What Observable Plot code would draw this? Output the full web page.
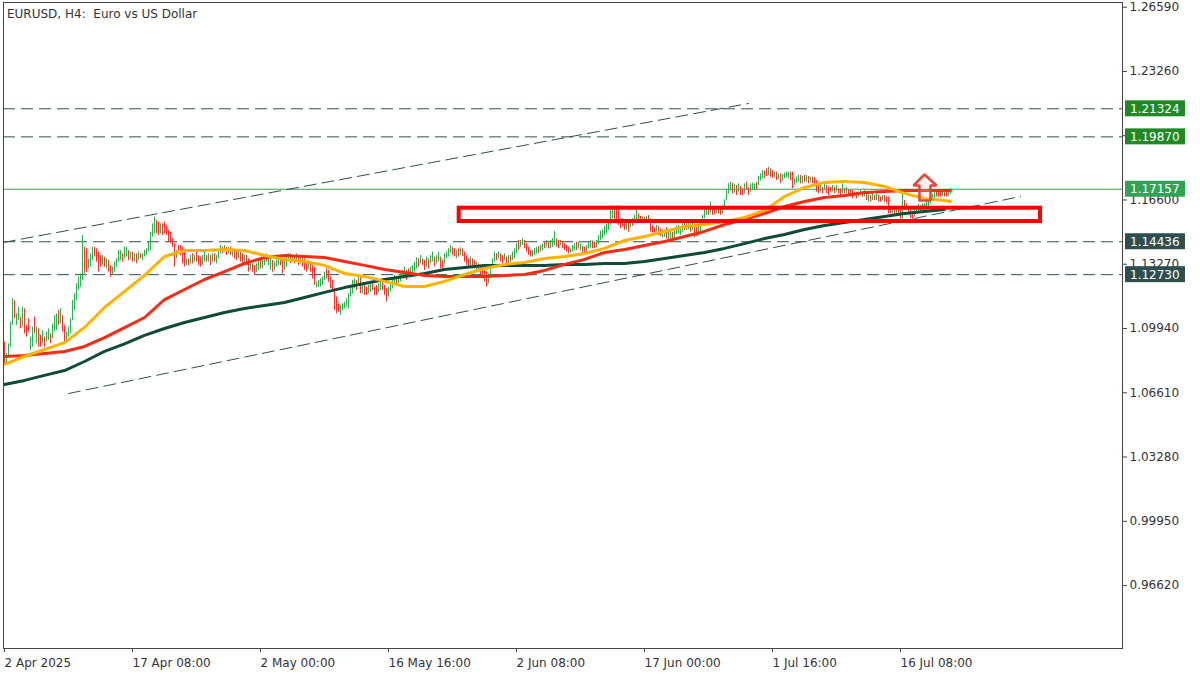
<!DOCTYPE html>
<html><head><meta charset="utf-8">
<script src="https://cdn.jsdelivr.net/npm/d3@7"></script>
<script src="https://cdn.jsdelivr.net/npm/@observablehq/plot@0.6"></script>
<style>
html,body{margin:0;padding:0;background:#fff;}
#chart{width:1200px;height:675px;overflow:hidden;}
</style></head><body><div id="chart"></div>
<script>
// ---- EURUSD H4 candles (bar index 0 = 2 Apr 2025) ----
const high = [
1.0923,1.0863,1.0915,1.1027,1.1148,1.1139,1.1070,1.1105,1.1053,1.1105,
1.1096,1.1010,1.1044,1.0949,1.1001,1.1053,1.1001,1.0992,1.0958,1.0984,
1.0949,1.0975,1.0992,1.0966,1.1018,1.1061,1.1070,1.1087,1.1096,1.1061,
1.1010,1.0975,1.1001,1.1044,1.1139,1.1174,1.1226,1.1260,1.1277,1.1476,
1.1415,1.1407,1.1355,1.1381,1.1415,1.1415,1.1407,1.1390,1.1372,1.1372,
1.1364,1.1355,1.1346,1.1320,1.1312,1.1338,1.1355,1.1398,1.1398,1.1381,
1.1415,1.1415,1.1398,1.1390,1.1390,1.1381,1.1381,1.1390,1.1381,1.1381,
1.1398,1.1407,1.1441,1.1493,1.1536,1.1571,1.1554,1.1545,1.1536,1.1536,
1.1545,1.1528,1.1502,1.1493,1.1459,1.1433,1.1398,1.1424,1.1424,1.1415,
1.1398,1.1355,1.1355,1.1372,1.1381,1.1372,1.1390,1.1372,1.1364,1.1372,
1.1390,1.1372,1.1381,1.1372,1.1381,1.1381,1.1372,1.1398,1.1424,1.1415,
1.1424,1.1415,1.1415,1.1415,1.1407,1.1398,1.1390,1.1398,1.1390,1.1381,
1.1372,1.1372,1.1355,1.1338,1.1329,1.1320,1.1329,1.1346,1.1355,1.1346,
1.1372,1.1381,1.1372,1.1364,1.1346,1.1338,1.1355,1.1372,1.1364,1.1346,
1.1355,1.1381,1.1381,1.1381,1.1372,1.1372,1.1381,1.1372,1.1372,1.1364,
1.1355,1.1338,1.1346,1.1329,1.1320,1.1312,1.1234,1.1243,1.1251,1.1260,
1.1286,1.1303,1.1295,1.1260,1.1243,1.1200,1.1157,1.1122,1.1113,1.1122,
1.1131,1.1148,1.1174,1.1208,1.1243,1.1251,1.1243,1.1269,1.1260,1.1226,
1.1226,1.1208,1.1217,1.1226,1.1234,1.1208,1.1217,1.1226,1.1234,1.1234,
1.1217,1.1200,1.1208,1.1234,1.1251,1.1269,1.1260,1.1269,1.1286,1.1295,
1.1312,1.1295,1.1303,1.1312,1.1321,1.1338,1.1360,1.1355,1.1372,1.1355,
1.1346,1.1364,1.1355,1.1372,1.1390,1.1364,1.1372,1.1390,1.1364,1.1346,
1.1381,1.1390,1.1407,1.1424,1.1415,1.1407,1.1398,1.1407,1.1412,1.1407,
1.1390,1.1372,1.1355,1.1364,1.1355,1.1346,1.1338,1.1329,1.1321,1.1312,
1.1295,1.1286,1.1277,1.1321,1.1355,1.1390,1.1381,1.1390,1.1381,1.1372,
1.1381,1.1364,1.1372,1.1372,1.1390,1.1407,1.1433,1.1450,1.1450,1.1459,
1.1450,1.1433,1.1415,1.1398,1.1398,1.1407,1.1415,1.1419,1.1424,1.1433,
1.1441,1.1450,1.1441,1.1450,1.1459,1.1497,1.1459,1.1450,1.1450,1.1447,
1.1433,1.1424,1.1415,1.1407,1.1424,1.1433,1.1441,1.1441,1.1433,1.1419,
1.1415,1.1424,1.1441,1.1450,1.1447,1.1441,1.1450,1.1476,1.1498,1.1505,
1.1523,1.1536,1.1554,1.1606,1.1631,1.1614,1.1623,1.1631,1.1562,1.1562,
1.1554,1.1554,1.1545,1.1545,1.1562,1.1580,1.1614,1.1588,1.1575,1.1571,
1.1571,1.1575,1.1580,1.1562,1.1528,1.1516,1.1528,1.1523,1.1510,1.1505,
1.1505,1.1516,1.1493,1.1502,1.1493,1.1510,1.1523,1.1528,1.1519,1.1536,
1.1545,1.1550,1.1554,1.1536,1.1545,1.1536,1.1516,1.1523,1.1550,1.1580,
1.1614,1.1626,1.1619,1.1649,1.1626,1.1619,1.1623,1.1619,1.1614,1.1631,
1.1661,1.1713,1.1744,1.1752,1.1747,1.1740,1.1735,1.1744,1.1730,1.1718,
1.1744,1.1752,1.1723,1.1744,1.1747,1.1744,1.1752,1.1782,1.1795,1.1813,
1.1809,1.1821,1.1830,1.1821,1.1813,1.1804,1.1804,1.1795,1.1795,1.1792,
1.1799,1.1804,1.1804,1.1804,1.1804,1.1770,1.1778,1.1787,1.1787,1.1782,
1.1787,1.1787,1.1782,1.1778,1.1778,1.1775,1.1761,1.1744,1.1735,1.1726,
1.1744,1.1735,1.1726,1.1726,1.1735,1.1726,1.1735,1.1718,1.1718,1.1744,
1.1718,1.1726,1.1713,1.1709,1.1709,1.1701,1.1701,1.1701,1.1709,1.1701,
1.1709,1.1701,1.1692,1.1683,1.1692,1.1683,1.1692,1.1683,1.1675,1.1683,
1.1683,1.1675,1.1675,1.1614,1.1609,1.1614,1.1614,1.1614,1.1606,1.1692,
1.1657,1.1640,1.1623,1.1606,1.1597,1.1609,1.1623,1.1637,1.1631,1.1640,
1.1640,1.1657,1.1666,1.1678,1.1688,1.1701,1.1701,1.1701,1.1699,1.1701,
1.1699,1.1701,1.1706,1.1720];
const low = [
1.0811,1.0802,1.0846,1.0897,1.1010,1.1044,1.1010,1.1036,1.0992,1.1001,
1.0966,1.0949,1.0975,1.0880,1.0897,1.0966,1.0915,1.0897,1.0897,1.0915,
1.0897,1.0923,1.0932,1.0915,1.0941,1.0975,1.0984,1.1010,1.1018,1.0975,
1.0923,1.0923,1.0949,1.0966,1.1036,1.1087,1.1139,1.1191,1.1208,1.1243,
1.1277,1.1286,1.1303,1.1312,1.1346,1.1364,1.1338,1.1286,1.1312,1.1320,
1.1312,1.1303,1.1286,1.1260,1.1269,1.1286,1.1312,1.1338,1.1346,1.1338,
1.1355,1.1364,1.1346,1.1355,1.1338,1.1338,1.1329,1.1346,1.1355,1.1346,
1.1364,1.1372,1.1390,1.1398,1.1467,1.1485,1.1485,1.1476,1.1485,1.1476,
1.1485,1.1476,1.1441,1.1433,1.1415,1.1312,1.1355,1.1381,1.1372,1.1329,
1.1312,1.1320,1.1320,1.1329,1.1329,1.1338,1.1338,1.1320,1.1312,1.1320,
1.1338,1.1338,1.1338,1.1320,1.1338,1.1338,1.1329,1.1355,1.1381,1.1381,
1.1390,1.1372,1.1381,1.1372,1.1364,1.1355,1.1346,1.1355,1.1338,1.1329,
1.1329,1.1320,1.1286,1.1295,1.1286,1.1269,1.1286,1.1295,1.1303,1.1303,
1.1320,1.1338,1.1320,1.1295,1.1286,1.1295,1.1312,1.1320,1.1320,1.1277,
1.1295,1.1312,1.1338,1.1329,1.1338,1.1329,1.1338,1.1320,1.1329,1.1312,
1.1295,1.1286,1.1303,1.1286,1.1251,1.1217,1.1205,1.1208,1.1208,1.1217,
1.1243,1.1251,1.1234,1.1200,1.1182,1.1087,1.1070,1.1079,1.1062,1.1087,
1.1096,1.1105,1.1096,1.1157,1.1174,1.1200,1.1191,1.1217,1.1174,1.1174,
1.1165,1.1165,1.1174,1.1182,1.1191,1.1165,1.1165,1.1182,1.1191,1.1191,
1.1165,1.1131,1.1157,1.1182,1.1200,1.1217,1.1226,1.1226,1.1234,1.1251,
1.1260,1.1243,1.1260,1.1260,1.1277,1.1286,1.1303,1.1312,1.1329,1.1321,
1.1295,1.1312,1.1303,1.1329,1.1338,1.1312,1.1329,1.1338,1.1303,1.1295,
1.1329,1.1355,1.1364,1.1381,1.1372,1.1364,1.1355,1.1364,1.1372,1.1367,
1.1338,1.1321,1.1312,1.1312,1.1303,1.1303,1.1295,1.1295,1.1269,1.1260,
1.1234,1.1208,1.1226,1.1260,1.1303,1.1338,1.1346,1.1355,1.1338,1.1329,
1.1346,1.1329,1.1329,1.1338,1.1346,1.1355,1.1381,1.1398,1.1415,1.1424,
1.1407,1.1390,1.1372,1.1364,1.1364,1.1372,1.1381,1.1384,1.1390,1.1398,
1.1407,1.1415,1.1407,1.1407,1.1415,1.1424,1.1415,1.1407,1.1424,1.1407,
1.1398,1.1390,1.1381,1.1384,1.1390,1.1398,1.1398,1.1407,1.1395,1.1381,
1.1381,1.1390,1.1407,1.1412,1.1407,1.1407,1.1412,1.1429,1.1450,1.1459,
1.1476,1.1485,1.1502,1.1528,1.1562,1.1554,1.1536,1.1528,1.1510,1.1519,
1.1502,1.1502,1.1493,1.1516,1.1523,1.1540,1.1554,1.1545,1.1545,1.1545,
1.1540,1.1545,1.1540,1.1493,1.1488,1.1481,1.1493,1.1476,1.1471,1.1464,
1.1467,1.1459,1.1450,1.1459,1.1450,1.1464,1.1481,1.1485,1.1476,1.1493,
1.1502,1.1502,1.1505,1.1493,1.1502,1.1464,1.1471,1.1476,1.1488,1.1528,
1.1562,1.1580,1.1580,1.1592,1.1580,1.1585,1.1588,1.1588,1.1580,1.1588,
1.1614,1.1657,1.1692,1.1706,1.1692,1.1695,1.1683,1.1701,1.1683,1.1683,
1.1692,1.1709,1.1683,1.1701,1.1709,1.1709,1.1713,1.1735,1.1758,1.1770,
1.1770,1.1782,1.1787,1.1778,1.1770,1.1775,1.1761,1.1764,1.1744,1.1758,
1.1770,1.1775,1.1770,1.1761,1.1718,1.1735,1.1744,1.1752,1.1744,1.1744,
1.1752,1.1752,1.1744,1.1752,1.1744,1.1735,1.1701,1.1692,1.1701,1.1692,
1.1709,1.1692,1.1683,1.1701,1.1701,1.1692,1.1701,1.1692,1.1683,1.1692,
1.1692,1.1692,1.1683,1.1683,1.1666,1.1675,1.1666,1.1675,1.1683,1.1675,
1.1675,1.1657,1.1649,1.1649,1.1657,1.1657,1.1657,1.1649,1.1649,1.1657,
1.1649,1.1640,1.1588,1.1588,1.1588,1.1588,1.1588,1.1585,1.1554,1.1562,
1.1614,1.1606,1.1588,1.1562,1.1554,1.1571,1.1588,1.1597,1.1597,1.1606,
1.1609,1.1619,1.1626,1.1640,1.1657,1.1666,1.1675,1.1675,1.1675,1.1678,
1.1675,1.1675,1.1678,1.1690];
// 1 = bullish (green), 0 = bearish (red)
const bullish = [
0,1,1,1,1,0,1,1,0,1, 0,0,0,1,1,0,1,0,0,1, 0,1,1,0,1,1,1,0,1,0, 0,1,1,1,1,1,1,1,1,1,
0,0,1,1,1,0,0,0,0,1, 0,1,0,0,1,1,1,1,1,0, 1,1,0,1,0,1,0,1,0,1, 1,1,1,1,1,1,0,0,1,0,
0,0,0,0,0,0,1,0,0,0, 0,1,0,1,0,1,0,0,0,1, 1,0,1,0,1,0,1,1,1,0, 1,0,1,0,1,0,0,1,0,0,
1,0,0,1,0,0,1,1,0,1, 1,0,1,1,0,1,1,1,0,0, 1,1,1,0,1,0,1,0,1,0, 0,0,1,0,0,0,1,1,1,1,
1,0,0,0,0,0,0,0,1,1, 1,1,1,1,1,1,0,1,0,1, 0,0,1,1,0,0,0,1,1,0, 0,0,1,1,1,1,0,1,1,1,
1,0,0,1,1,1,1,0,1,0, 0,1,0,1,1,0,1,1,0,0, 1,1,1,1,0,0,1,0,1,0, 0,0,0,1,0,0,1,0,0,0,
0,0,1,1,1,1,0,1,0,0, 1,0,1,0,1,1,1,0,1,1, 0,0,0,0,1,1,1,0,1,1, 0,1,0,1,1,1,0,0,1,0,
0,0,0,1,1,1,0,1,1,0, 0,1,1,1,0,0,1,1,1,1, 1,1,1,1,1,0,0,0,0,0, 0,1,0,1,0,1,1,0,0,1,
0,1,0,0,0,0,1,0,0,1, 1,0,1,1,0,1,1,1,1,1, 0,1,1,0,1,0,0,1,1,1, 1,1,0,1,0,0,1,0,0,1,
1,1,1,1,0,1,0,1,0,0, 1,0,0,1,1,1,0,1,1,1, 0,0,1,0,0,1,0,1,0,1, 1,1,1,0,0,1,1,1,0,1,
0,1,0,1,0,0,0,0,1,0, 1,0,0,0,1,0,1,0,0,1, 0,1,0,0,0,1,0,1,1,0, 1,0,1,0,1,0,1,0,0,1,
0,0,0,0,1,0,1,0,0,1, 0,0,0,0,0,1,1,1,0,1, 1,1,1,1,1,1,0,0,0,1, 0,0,1,1];

// ---- moving averages, sampled along each line ----
const maBars = [0,10,20,30,40,50,60,70,80,90,100,110,120,130,140,150,160,170,180,190,200,210,220,230,240,250,260,270,280,290,300,310,320,330,340,350,360,370,380,390,400,410,420,430,440,450,460,470,473];
const maFast = [1.0808,1.0849,1.0885,1.0921,1.0999,1.1103,1.1186,1.1269,1.1367,1.1398,
1.1398,1.1403,1.1398,1.1372,1.1352,1.1341,1.1321,1.1279,1.1264,1.1238,
1.1212,1.1212,1.1238,1.1274,1.1305,1.1326,1.1336,1.1357,1.1367,1.1383,
1.1409,1.1450,1.1471,1.1497,1.1523,1.1533,1.1549,1.1569,1.1606,1.1678,
1.1725,1.1751,1.1756,1.1751,1.1730,1.1694,1.1668,1.1657,1.1652];
const maMid = [1.0849,1.0854,1.0864,1.0875,1.0901,1.0947,1.0999,1.1051,1.1144,1.1196,
1.1248,1.1289,1.1331,1.1362,1.1372,1.1367,1.1362,1.1341,1.1321,1.1300,
1.1284,1.1269,1.1264,1.1264,1.1264,1.1269,1.1274,1.1295,1.1326,1.1352,
1.1388,1.1403,1.1424,1.1445,1.1471,1.1497,1.1533,1.1559,1.1590,1.1626,
1.1652,1.1673,1.1683,1.1699,1.1704,1.1709,1.1709,1.1709,1.1709];
const maSlow = [1.0704,1.0725,1.0751,1.0776,1.0823,1.0875,1.0914,1.0958,1.0994,1.1025,
1.1051,1.1077,1.1098,1.1113,1.1129,1.1155,1.1181,1.1206,1.1227,1.1248,
1.1264,1.1279,1.1300,1.1310,1.1321,1.1321,1.1321,1.1321,1.1326,1.1326,
1.1331,1.1331,1.1341,1.1357,1.1372,1.1388,1.1409,1.1434,1.1460,1.1481,
1.1507,1.1528,1.1543,1.1559,1.1574,1.1590,1.1600,1.1611];

// ---- drawings ----
const levelPrices = [1.21324, 1.19870, 1.14436, 1.12730];
const levelColors = ["#1f8a24", "#1f8a24", "#2f4f4f", "#2f4f4f"];
const lastPrice = 1.17157;
const channelUpperBars = [-0.5, 372];
const channelUpperPrices = [1.1440, 1.2160];
const channelLowerBars = [32, 508];
const channelLowerPrices = [1.0657, 1.1678];
const zoneBars = [227.35, 518];
const zonePrices = [1.15485, 1.16174];
const arrowBars = [457.5, 457.5, 454.5, 460, 466, 463, 463, 457.5];
const arrowPrices = [1.16573, 1.17350, 1.17350, 1.17920, 1.17350, 1.17350, 1.16573, 1.16573];

// ---- axes ----
const priceTicks = [1.2659, 1.2326, 1.1993, 1.1660, 1.1327, 1.0994, 1.0661, 1.0328, 0.9995, 0.9662];
const hiddenPriceTicks = [1.1993]; // tick label fully covered by the 1.19870 box
const dateTickBars = [-0.5, 63.5, 127.5, 191.5, 255.5, 319.5, 383.5, 447.5];
const dateTickLabels = ["2 Apr 2025", "17 Apr 08:00", "2 May 00:00", "16 May 16:00", "2 Jun 08:00", "17 Jun 00:00", "1 Jul 16:00", "16 Jul 08:00"];

const candles = high.map((h, i) => ({i, high: h, low: low[i], up: bullish[i] === 1}));
const line = (vals) => vals.map((v, k) => ({b: maBars[k], v}));
const pairs = (bs, ps) => bs.map((b, k) => ({b, v: ps[k]}));
const dateLabel = new Map(dateTickBars.map((b, k) => [b, dateTickLabels[k]]));
const fmt5 = d3.format(".5f");

const chart = Plot.plot({
  width: 1200, height: 675,
  marginTop: 2, marginLeft: 3, marginRight: 78, marginBottom: 27,
  style: {fontFamily: "'DejaVu Sans', sans-serif", fontSize: "12px", color: "#333", background: "#fff", overflow: "visible"},
  x: {type: "linear", domain: [-0.5, 559], axis: null},
  y: {type: "linear", domain: [0.93358, 1.26833], axis: null},
  marks: [
    Plot.ruleY(levelPrices, {stroke: "#2f4f4f", strokeWidth: 1, strokeDasharray: "12,6"}),
    Plot.ruleY([lastPrice], {stroke: "#3a9a50", strokeWidth: 1}),
    Plot.line(pairs(channelUpperBars, channelUpperPrices), {x: "b", y: "v", stroke: "#2f4f4f", strokeWidth: 1, strokeDasharray: "12,6"}),
    Plot.line(pairs(channelLowerBars, channelLowerPrices), {x: "b", y: "v", stroke: "#2f4f4f", strokeWidth: 1, strokeDasharray: "12,6"}),
    Plot.ruleX(candles, {x: "i", y1: "low", y2: "high", stroke: d => d.up ? "#2bb34f" : "#ff3030", strokeWidth: 1}),
    Plot.line(line(maSlow), {x: "b", y: "v", stroke: "#0f4b3a", strokeWidth: 3}),
    Plot.line(line(maMid), {x: "b", y: "v", stroke: "#ff2a14", strokeWidth: 3}),
    Plot.line(line(maFast), {x: "b", y: "v", stroke: "#ffb300", strokeWidth: 3}),
    Plot.rect([0], {x1: () => zoneBars[0], x2: () => zoneBars[1], y1: () => zonePrices[0], y2: () => zonePrices[1], fill: "none", stroke: "#ff0000", strokeWidth: 4}),
    Plot.line(pairs(arrowBars, arrowPrices), {x: "b", y: "v", stroke: "#e2483a", strokeWidth: 2.5, fill: "rgba(255,200,200,0.25)", strokeLinejoin: "miter"}),
    Plot.frame({stroke: "#444", strokeWidth: 1}),
    Plot.axisY(priceTicks, {anchor: "right", tickFormat: d => hiddenPriceTicks.includes(d) ? "" : fmt5(d), tickSize: 4, tickPadding: 3, fontSize: 12, label: null, stroke: "#444"}),
    Plot.axisX(dateTickBars, {anchor: "bottom", tickFormat: d => dateLabel.get(d), textAnchor: "start", dx: 1, tickSize: 4, tickPadding: 6, fontSize: 12, label: null, stroke: "#444"})
  ]
});

// price labels on the right axis, positioned through the chart's own y scale
const yS = chart.scale("y");
const svg = d3.select(chart);
const boxes = levelPrices.map((p, k) => ({p, c: levelColors[k]})).concat([{p: lastPrice, c: "#2fa356"}]);
const g = svg.append("g").attr("text-anchor", "start");
boxes.forEach(b => {
  const y = yS.apply(b.p);
  g.append("rect").attr("x", 1125).attr("y", y - 8).attr("width", 60).attr("height", 16).attr("fill", b.c);
  g.append("text").attr("x", 1130).attr("y", y + 4.5).attr("fill", "#fff").attr("text-anchor", "start")
    .attr("font-family", "'DejaVu Sans', sans-serif").attr("font-size", 12).text(fmt5(b.p));
});
svg.append("text").attr("x", 7).attr("y", 18).attr("fill", "#333").attr("text-anchor", "start")
  .attr("font-family", "'DejaVu Sans', sans-serif").attr("font-size", 12)
  .style("white-space", "pre").text("EURUSD, H4:  Euro vs US Dollar");

document.getElementById("chart").appendChild(chart);
</script></body></html>
